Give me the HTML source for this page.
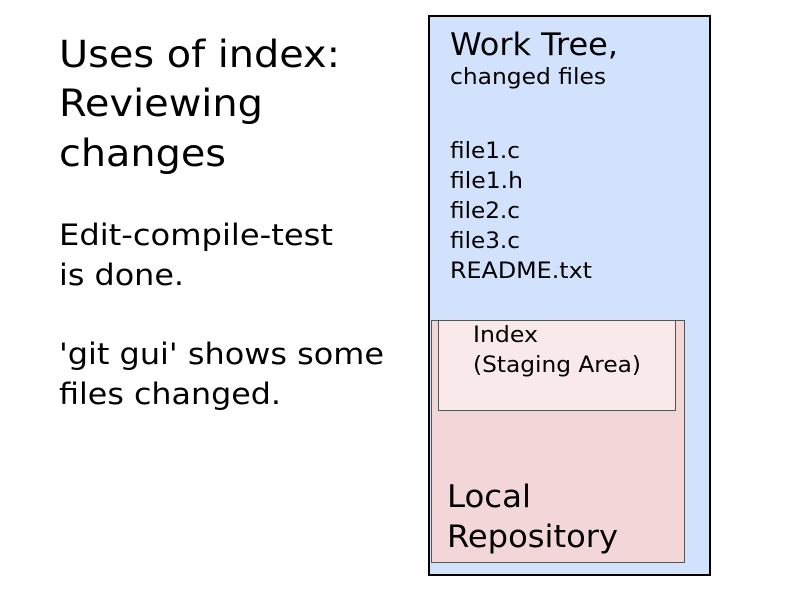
<!DOCTYPE html>
<html><head><style>body{margin:0;background:#fff}svg{display:block}</style></head><body>
<svg width="800" height="600" xmlns="http://www.w3.org/2000/svg" font-family="DejaVu Sans, sans-serif" fill="#000">
<rect x="0" y="0" width="800" height="600" fill="#fff"/>
<text x="59" y="67" font-size="37" textLength="281" lengthAdjust="spacingAndGlyphs">Uses of index:</text>
<text x="59" y="116" font-size="37" textLength="204" lengthAdjust="spacingAndGlyphs">Reviewing</text>
<text x="59" y="166" font-size="37" textLength="167" lengthAdjust="spacingAndGlyphs">changes</text>
<text x="59" y="245" font-size="29" textLength="274" lengthAdjust="spacingAndGlyphs">Edit-compile-test</text>
<text x="59" y="285" font-size="29" textLength="125" lengthAdjust="spacingAndGlyphs">is done.</text>
<text x="59" y="364" font-size="29" textLength="325" lengthAdjust="spacingAndGlyphs">'git gui' shows some</text>
<text x="59" y="404" font-size="29" textLength="222" lengthAdjust="spacingAndGlyphs">files changed.</text>
<rect x="429" y="16" width="281" height="559" fill="#d3e2fc" stroke="#000" stroke-width="2"/>
<text x="450" y="55" font-size="31" textLength="168" lengthAdjust="spacingAndGlyphs">Work Tree,</text>
<text x="450" y="84" font-size="22" textLength="156" lengthAdjust="spacingAndGlyphs">changed files</text>
<text x="450" y="158" font-size="22" textLength="70" lengthAdjust="spacingAndGlyphs">file1.c</text>
<text x="450" y="188" font-size="22" textLength="73" lengthAdjust="spacingAndGlyphs">file1.h</text>
<text x="450" y="218" font-size="22" textLength="70" lengthAdjust="spacingAndGlyphs">file2.c</text>
<text x="450" y="248" font-size="22" textLength="70" lengthAdjust="spacingAndGlyphs">file3.c</text>
<text x="450" y="278" font-size="22" textLength="142" lengthAdjust="spacingAndGlyphs">README.txt</text>
<rect x="431.5" y="320.5" width="253" height="242" fill="#f2d6d8" stroke="#555" stroke-width="1"/>
<rect x="438.5" y="320.5" width="237" height="90" fill="#fae9ea" stroke="#555" stroke-width="1"/>
<text x="473" y="342" font-size="22" textLength="65" lengthAdjust="spacingAndGlyphs">Index</text>
<text x="473" y="372" font-size="22" textLength="168" lengthAdjust="spacingAndGlyphs">(Staging Area)</text>
<text x="447" y="507" font-size="31" textLength="84" lengthAdjust="spacingAndGlyphs">Local</text>
<text x="447" y="547" font-size="31" textLength="171" lengthAdjust="spacingAndGlyphs">Repository</text>
</svg>
</body></html>
